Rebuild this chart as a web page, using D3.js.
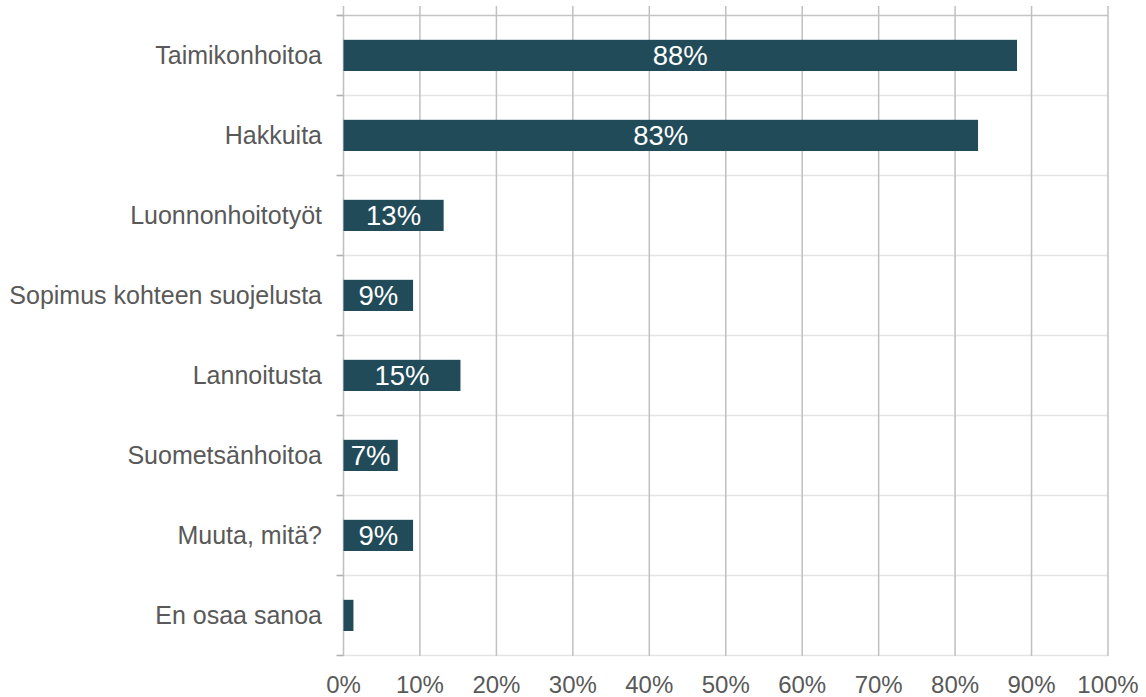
<!DOCTYPE html>
<html>
<head>
<meta charset="utf-8">
<script src="https://d3js.org/d3.v7.min.js"></script>
<style>
  body { margin: 0; background: #fff; }
  text { font-family: "Liberation Sans", Arial, sans-serif; }
</style>
</head>
<body>
<script>
// data
var categories = ["Taimikonhoitoa", "Hakkuita", "Luonnonhoitotyöt", "Sopimus kohteen suojelusta",
                  "Lannoitusta", "Suometsänhoitoa", "Muuta, mitä?", "En osaa sanoa"];
var values = [88.1, 83.0, 13.1, 9.1, 15.3, 7.1, 9.1, 1.3];
var showLabel = [true, true, true, true, true, true, true, false];
var xTicks = [0, 10, 20, 30, 40, 50, 60, 70, 80, 90, 100];

var W = 1146, H = 697;
var plotLeft = 343.5, plotRight = 1108, plotTop = 15, plotBottom = 655;

var svg = d3.select("body").append("svg")
  .attr("width", W).attr("height", H);

var x = d3.scaleLinear().domain([0, 100]).range([plotLeft, plotRight]);
var y = d3.scaleBand().domain(categories).range([plotTop, plotBottom]).paddingInner(0).paddingOuter(0);
var bw = y.bandwidth();

// horizontal row separators
var edges = categories.map(function (c) { return y(c); }).concat([plotBottom]);
svg.append("g").selectAll("line")
  .data(edges)
  .enter().append("line")
    .attr("x1", plotLeft - 6).attr("x2", plotRight)
    .attr("y1", function (d) { return Math.round(d) + 0.5; })
    .attr("y2", function (d) { return Math.round(d) + 0.5; })
    .attr("stroke", function (d, i) { return i === 0 ? "#c4c4c4" : "#e4e4e4"; })
    .attr("stroke-width", 1.5);

// vertical gridlines
svg.append("g").selectAll("line")
  .data(xTicks)
  .enter().append("line")
    .attr("x1", function (d) { return x(d); })
    .attr("x2", function (d) { return x(d); })
    .attr("y1", 6).attr("y2", plotBottom + 1)
    .attr("stroke", "#c0c0c0")
    .attr("stroke-width", 1.5);

// small ticks on the category axis
svg.append("g").selectAll("line")
  .data(edges)
  .enter().append("line")
    .attr("x1", plotLeft - 7).attr("x2", plotLeft)
    .attr("y1", function (d) { return Math.round(d) + 0.5; })
    .attr("y2", function (d) { return Math.round(d) + 0.5; })
    .attr("stroke", "#b0b0b0")
    .attr("stroke-width", 1.5);

// bars
svg.append("g").selectAll("rect")
  .data(values)
  .enter().append("rect")
    .attr("x", x(0))
    .attr("y", function (d, i) { return y(categories[i]) + bw * 0.31; })
    .attr("width", function (d) { return x(d) - x(0); })
    .attr("height", bw * 0.39)
    .attr("fill", "#224b59");

// value labels
svg.append("g").selectAll("text")
  .data(values.map(function (v, i) { return { v: v, c: categories[i], s: showLabel[i] }; })
    .filter(function (d) { return d.s; }))
  .enter().append("text")
    .attr("x", function (d) { return (x(0) + x(d.v)) / 2; })
    .attr("y", function (d) { return y(d.c) + bw / 2 + 10; })
    .attr("text-anchor", "middle")
    .attr("fill", "#ffffff")
    .style("font-size", "27.5px")
    .text(function (d) { return Math.round(d.v) + "%"; });

// category labels
svg.append("g").selectAll("text")
  .data(categories)
  .enter().append("text")
    .attr("x", 322)
    .attr("y", function (d) { return y(d) + bw / 2 + 8.5; })
    .attr("text-anchor", "end")
    .attr("fill", "#595959")
    .style("font-size", "25px")
    .text(function (d) { return d; });

// x tick labels
svg.append("g").selectAll("text")
  .data(xTicks)
  .enter().append("text")
    .attr("x", function (d) { return x(d); })
    .attr("y", 693)
    .attr("text-anchor", "middle")
    .attr("fill", "#595959")
    .style("font-size", "24px")
    .text(function (d) { return d + "%"; });
</script>
</body>
</html>
